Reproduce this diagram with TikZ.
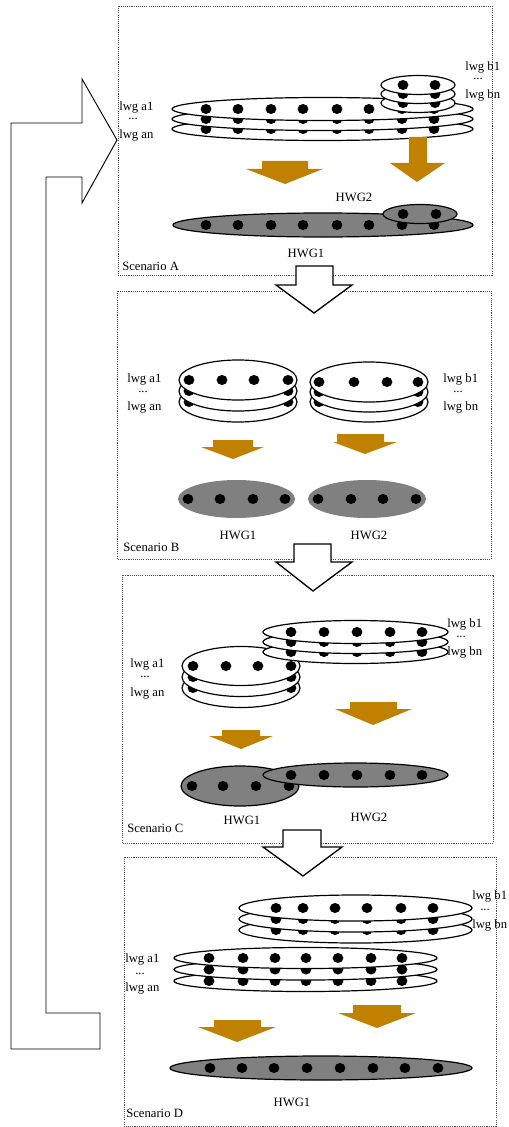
\documentclass[tikz,border=0pt]{standalone}
\usepackage{fontspec}
\setmainfont{Liberation Serif}
\definecolor{arrowbrown}{RGB}{192,128,0}
\definecolor{hwggray}{RGB}{128,128,128}
\tikzset{
  ring/.style={draw=black, fill=white, line width=0.9pt},
  hwg/.style={draw=black, fill=hwggray, line width=0.9pt},
  hwgsoft/.style={fill=hwggray},
  scenbox/.style={draw=black!70, line width=0.7pt, dash pattern=on 0.8pt off 0.8pt},
  bigarrow/.style={draw=black, fill=white, line width=1pt, line join=miter},
  looparrow/.style={draw=black, line width=0.7pt, line join=miter},
  flowarrow/.style={fill=arrowbrown},
  lbl/.style={font=\fontsize{9.5}{11}\selectfont, inner sep=0pt},
}
% one layer: style, centre x, centre y, x radius, y radius, dot positions
\newcommand{\disc}[6]{%
  \path[#1] (#2,#3) ellipse [x radius=#4, y radius=#5];
  \foreach \dx in {#6} \fill (\dx,#3) ellipse [x radius=5.4, y radius=5];
}
% brown block arrow: shaft left/right, shaft top, head left/right, head top, tip x, tip y
\newcommand{\flow}[8]{%
  \fill[flowarrow] (#1,#3) -- (#2,#3) -- (#2,#6) -- (#5,#6) -- (#7,#8) -- (#4,#6) -- (#1,#6) -- cycle;
}
% hollow block arrow between scenarios: shaft left/right, shaft top, head left/right, head top, tip x, tip y
\newcommand{\stage}[8]{%
  \path[bigarrow] (#1,#3) -- (#2,#3) -- (#2,#6) -- (#5,#6) -- (#7,#8) -- (#4,#6) -- (#1,#6) -- cycle;
}
\begin{document}
\begin{tikzpicture}[x=0.75pt,y=-0.75pt]
\useasboundingbox[fill=white] (0,0) rectangle (508,1127);

% scenario frames
\draw[scenbox] (118,6) rectangle (492,275);
\draw[scenbox] (117,291) rectangle (491,559);
\draw[scenbox] (122,575) rectangle (493,843);
\draw[scenbox] (124,857) rectangle (496,1126);

% loop back from D to A
\draw[looparrow] (11,123) -- (82,123) -- (82,79) -- (117,140) -- (82,203) -- (82,177)
  -- (46,177) -- (46,1013) -- (100,1013) -- (100,1049) -- (11,1049) -- cycle;

% ---------------- Scenario A ----------------
\disc{ring}{322.5}{129}{150.5}{11.5}{206,238,271,303,337,369,402,434}
\disc{ring}{322.5}{119}{150.5}{11.5}{206,238,271,303,337,369,402,434}
\disc{ring}{322.5}{109}{150.5}{11.5}{206,238,271,303,337,369,402,434}
\disc{ring}{418}{103}{37}{9.5}{403,435}
\disc{ring}{418}{94}{37}{9.5}{403,435}
\disc{ring}{418}{85}{37}{9.5}{403,435}
\flow{262}{308}{161}{246}{323}{169}{285}{184}
\flow{409}{427}{137}{390}{445}{163}{417}{182}
\disc{hwg}{323}{225}{150}{12}{206,238,271,303,337,369,402,434}
\disc{hwg}{420}{214}{37}{9.5}{403,436}
\node[lbl, anchor=west] (aA1) at (119,107) {lwg a1};
\node[lbl, anchor=base] (aAd) at (133,120) {...};
\node[lbl, anchor=west] (aAn) at (119,135) {lwg an};
\node[lbl, anchor=west] (bA1) at (465,67) {lwg b1};
\node[lbl, anchor=base] (bAd) at (478,80) {...};
\node[lbl, anchor=west] (bAn) at (465,95) {lwg bn};
\node[lbl] (hA2) at (354,197) {HWG2};
\node[lbl] (hA1) at (306,253) {HWG1};
\node[lbl, anchor=west] (sA) at (122,266) {Scenario A};

% ---------------- Scenario B ----------------
\disc{ring}{238}{402}{59}{20}{189,222,254,288}
\disc{ring}{238}{391}{59}{20}{189,222,254,288}
\disc{ring}{238}{380}{59}{20}{189,222,254,288}
\disc{ring}{369}{402}{59}{20}{319,354,387,418}
\disc{ring}{369}{392}{59}{20}{319,354,387,418}
\disc{ring}{369}{382}{59}{20}{319,354,387,418}
\flow{213}{253}{440}{201}{264}{447}{233}{459}
\flow{337}{384}{434}{333}{397}{442}{365}{454}
\disc{hwgsoft}{236.5}{499}{58.5}{19}{188,220,253,285}
\disc{hwgsoft}{367}{499}{59}{19}{318,351,383,416}
\node[lbl, anchor=west] (aB1) at (127,379) {lwg a1};
\node[lbl, anchor=base] (aBd) at (143,392) {...};
\node[lbl, anchor=west] (aBn) at (127,407) {lwg an};
\node[lbl, anchor=west] (bB1) at (443,379) {lwg b1};
\node[lbl, anchor=base] (bBd) at (458,392) {...};
\node[lbl, anchor=west] (bBn) at (443,407) {lwg bn};
\node[lbl] (hB1) at (238,535) {HWG1};
\node[lbl] (hB2) at (369,535) {HWG2};
\node[lbl, anchor=west] (sB) at (123,547) {Scenario B};

% ---------------- Scenario C ----------------
\disc{ring}{241}{688}{59}{19.5}{193,226,258,291}
\disc{ring}{241}{677}{59}{19.5}{193,226,258,291}
\disc{ring}{241}{666}{59}{19.5}{193,226,258,291}
\disc{ring}{355.5}{652}{92.5}{11.5}{291,324,357,390,422}
\disc{ring}{355.5}{642}{92.5}{11.5}{291,324,357,390,422}
\disc{ring}{355.5}{632}{92.5}{11.5}{291,324,357,390,422}
\flow{222}{260}{730}{209}{273}{736}{241}{749}
\flow{350}{397}{702}{335}{412}{709}{373}{725}
\disc{hwg}{240}{786}{59}{20}{192,223,256,289}
\disc{hwg}{355.5}{775}{92.5}{12}{291,324,357,390,422}
\node[lbl, anchor=west] (aC1) at (130,664) {lwg a1};
\node[lbl, anchor=base] (aCd) at (145,677) {...};
\node[lbl, anchor=west] (aCn) at (130,693) {lwg an};
\node[lbl, anchor=west] (bC1) at (447,624) {lwg b1};
\node[lbl, anchor=base] (bCd) at (461,637) {...};
\node[lbl, anchor=west] (bCn) at (447,652) {lwg bn};
\node[lbl] (hC1) at (242,820) {HWG1};
\node[lbl] (hC2) at (369,817) {HWG2};
\node[lbl, anchor=west] (sC) at (127,828) {Scenario C};

% ---------------- Scenario D ----------------
\disc{ring}{355.5}{930}{116.5}{13}{276,303,335,367,401,433}
\disc{ring}{355.5}{919}{116.5}{13}{276,303,335,367,401,433}
\disc{ring}{355.5}{908}{116.5}{13}{276,303,335,367,401,433}
\disc{ring}{305.5}{981}{131.5}{10.5}{209,243,275,306,338,371,402}
\disc{ring}{305.5}{969.5}{131.5}{10.5}{209,243,275,306,338,371,402}
\disc{ring}{305.5}{958}{131.5}{10.5}{209,243,275,306,338,371,402}
\flow{214}{261}{1020}{198}{276}{1027}{237}{1042}
\flow{353}{401}{1005}{338}{416}{1013}{377}{1028}
\disc{hwg}{321}{1068}{151}{12}{210,242,274,307,340,373,405,438}
\node[lbl, anchor=west] (aD1) at (125,959) {lwg a1};
\node[lbl, anchor=base] (aDd) at (140,974) {...};
\node[lbl, anchor=west] (aDn) at (125,988) {lwg an};
\node[lbl, anchor=west] (bD1) at (472,896) {lwg b1};
\node[lbl, anchor=base] (bDd) at (485,910) {...};
\node[lbl, anchor=west] (bDn) at (472,925) {lwg bn};
\node[lbl] (hD1) at (292,1102) {HWG1};
\node[lbl, anchor=west] (sD) at (126,1113) {Scenario D};

% transitions between scenarios
\stage{296}{333}{266}{276}{352}{285}{314}{313}
\stage{294}{331}{544}{276}{352}{562}{313}{591}
\stage{283}{321}{830}{263}{342}{847}{303}{876}
\end{tikzpicture}
\end{document}
